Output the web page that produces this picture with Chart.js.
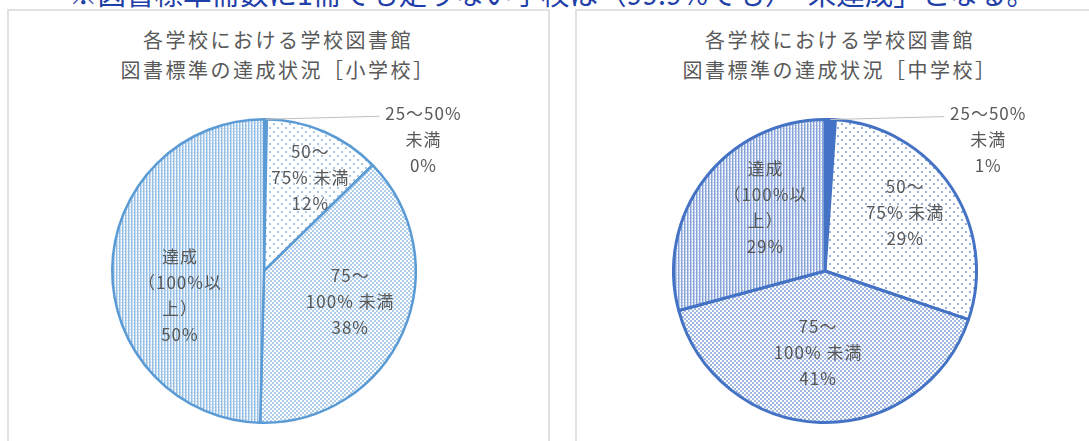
<!DOCTYPE html>
<html lang="ja">
<head>
<meta charset="utf-8">
<script src="https://cdn.jsdelivr.net/npm/chart.js@4.4.1/dist/chart.umd.min.js"></script>
<style>
  html, body { margin: 0; padding: 0; background: #fff; width: 1089px; height: 441px; overflow: hidden; }
  .note {
    position: absolute; left: 0; top: -21px; width: 1104px; text-align: center;
    font: 28.5px/28px "Noto Sans CJK JP", sans-serif; color: #1f40a8; white-space: nowrap;
  }
  .panel { position: absolute; top: 9px; height: 450px; border: 2px solid #e2e2e2; box-sizing: border-box; }
  .title {
    position: absolute; text-align: center; white-space: nowrap;
    font: 20px/30px "Noto Sans CJK JP", sans-serif; letter-spacing: 2.5px; color: #595959;
  }
  canvas { position: absolute; }
</style>
</head>
<body>
<div class="note">※図書標準冊数に1冊でも足りない学校は（99.9%でも）「未達成」となる。</div>

<div class="panel" style="left:7px; width:543px;"></div>
<div class="panel" style="left:575px; width:540px;"></div>

<div class="title" style="left:78px; width:400px; top:25px;">各学校における学校図書館<br>図書標準の達成状況［小学校］</div>
<div class="title" style="left:640px; width:400px; top:25px;">各学校における学校図書館<br>図書標準の達成状況［中学校］</div>

<canvas id="chartES" width="541" height="435" style="left:8px; top:10px;"></canvas>
<canvas id="chartJHS" width="528" height="435" style="left:576px; top:10px;"></canvas>

<script>
// --- data ---
const categories = ['25～50%未満', '50～75%未満', '75～100%未満', '達成（100%以上）'];
const labelLines = [
  ['25～50%', '未満'],
  ['50～', '75% 未満'],
  ['75～', '100% 未満'],
  ['達成', '（100%以', '上）']
];
const elementaryValues = [0.3, 12.4, 37.7, 49.6];
const juniorHighValues = [1.1, 29.1, 40.6, 29.2];

const FONT = '"Noto Sans CJK JP", sans-serif';

// small tiles for the Excel-like pattern fills
function makePattern(kind, color) {
  const tile = document.createElement('canvas');
  const t = tile.getContext('2d');
  if (kind === 'solid') return color;
  if (kind === 'sparse') {
    tile.width = 8; tile.height = 8;
    t.fillStyle = '#fff'; t.fillRect(0, 0, 8, 8);
    t.globalAlpha = 0.55; t.fillStyle = color;
    t.fillRect(1, 1, 2, 2); t.fillRect(5, 5, 2, 2);
  } else if (kind === 'dense') {
    tile.width = 4; tile.height = 4;
    t.fillStyle = '#fff'; t.fillRect(0, 0, 4, 4);
    t.globalAlpha = 0.5; t.fillStyle = color;
    t.fillRect(0, 0, 2, 2); t.fillRect(2, 2, 2, 2);
  } else {
    // vertical stripes with a few dots
    tile.width = 3; tile.height = 3;
    t.fillStyle = '#fff'; t.fillRect(0, 0, 3, 3);
    t.fillStyle = color;
    t.globalAlpha = 0.65; t.fillRect(0, 0, 1, 3);
    t.globalAlpha = 0.35; t.fillRect(1, 0, 1, 3);
    t.globalAlpha = 0.3; t.fillRect(2, 1, 1, 1);
  }
  return t.createPattern(tile, 'repeat');
}

// data labels drawn from the arcs
const pieLabels = {
  id: 'pieLabels',
  afterDatasetsDraw(chart, args, opts) {
    const ctx = chart.ctx;
    const arcs = chart.getDatasetMeta(0).data;
    const values = chart.data.datasets[0].data;
    ctx.save();
    ctx.font = '17px ' + FONT;
    if ('letterSpacing' in ctx) ctx.letterSpacing = '1px';
    ctx.fillStyle = '#595959';
    ctx.textAlign = 'center';
    ctx.textBaseline = 'middle';
    arcs.forEach((arc, i) => {
      const p = arc.getProps(['x', 'y', 'startAngle', 'endAngle', 'outerRadius'], true);
      const mid = (p.startAngle + p.endAngle) / 2;
      const lines = labelLines[i].concat(Math.round(values[i]) + '%');
      let lx, ly;
      if (opts.outside[i]) {
        const ax = p.x + Math.cos(mid) * p.outerRadius;
        const ay = p.y + Math.sin(mid) * p.outerRadius;
        lx = ax + 158;
        ly = ay + 20;
        ctx.strokeStyle = '#bfbfbf';
        ctx.lineWidth = 1;
        ctx.beginPath();
        ctx.moveTo(ax, ay);
        ctx.lineTo(lx - 44, ay - 3);
        ctx.stroke();
      } else {
        const r = p.outerRadius * 0.62;
        lx = p.x + Math.cos(mid) * r + opts.nudge[i][0];
        ly = p.y + Math.sin(mid) * r + opts.nudge[i][1];
      }
      const top = ly - (lines.length - 1) * 26 / 2;
      lines.forEach((txt, k) => ctx.fillText(txt, lx, top + k * 26));
    });
    ctx.restore();
  }
};

function makePie(id, values, color, borderWidth, padding, nudge) {
  const canvas = document.getElementById(id);
  new Chart(canvas.getContext('2d'), {
    type: 'pie',
    data: {
      labels: categories,
      datasets: [{
        data: values,
        backgroundColor: [
          makePattern('solid', color),
          makePattern('sparse', color),
          makePattern('dense', color),
          makePattern('stripes', color)
        ],
        borderColor: color,
        borderWidth: borderWidth
      }]
    },
    options: {
      responsive: false,
      animation: false,
      layout: { padding: padding },
      plugins: {
        legend: { display: false },
        tooltip: { enabled: false },
        pieLabels: { outside: [true, false, false, false], nudge: nudge }
      }
    },
    plugins: [pieLabels]
  });
}

makePie('chartES', elementaryValues, '#5B9BD5', 2.5,
  { left: 103, right: 132, top: 108, bottom: 21 },
  [[0, 0], [9, -7], [0, -7], [10, 26]]);

makePie('chartJHS', juniorHighValues, '#4472C4', 3,
  { left: 96, right: 126, top: 108, bottom: 21 },
  [[0, 0], [2, -6], [-4, -12], [15, -6]]);
</script>
</body>
</html>
